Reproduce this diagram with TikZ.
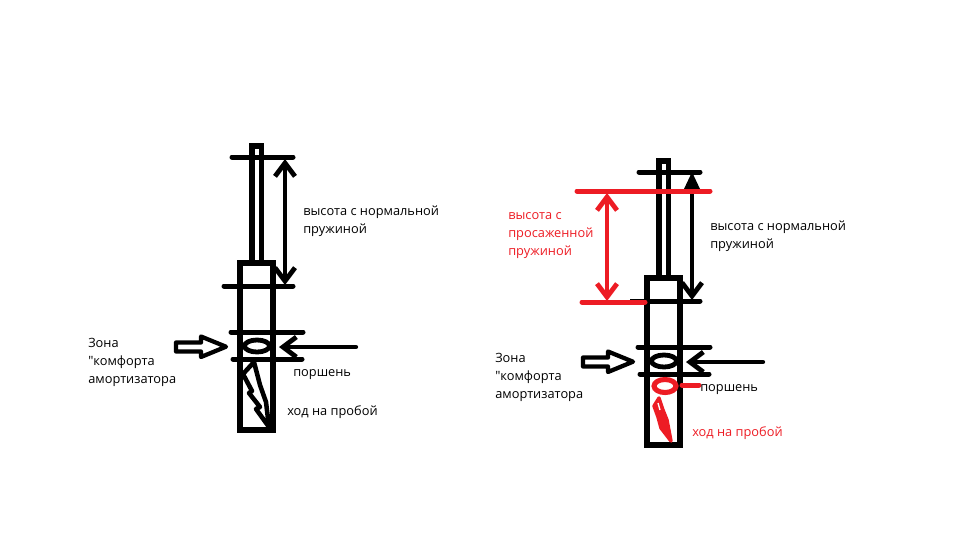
\documentclass[tikz,border=0pt]{standalone}
\usepackage{fontspec}
\setmainfont[Ligatures=TeXOff]{Open Sans}
\usetikzlibrary{arrows.meta}
\definecolor{myred}{RGB}{237,28,36}
\tikzset{
    thickline/.style={line width=3.75pt,line cap=round,line join=round},
    wallline/.style={line width=3.9pt,line join=miter},
    barbtip/.tip={Straight Barb[length=10pt,width=15pt,line width=3.6pt]},
    dimarrow/.style={line width=3.2pt,barbtip-barbtip},
    pusharrow/.style={line width=3.2pt,line join=round},
    note/.style={anchor=north west,inner sep=0pt,align=left,font=\fontsize{9.6}{13.5}\selectfont},
}
\begin{document}
\begin{tikzpicture}[x=0.75pt,y=-0.75pt]
    \useasboundingbox (0,0) rectangle (960,540);
    % left shock absorber
    \draw[wallline] (252,146) rectangle (261.5,263);
    \draw[wallline] (240,263) rectangle (273,430);
    \draw[thickline] (232,157) -- (293,157);
    \draw[thickline] (224,286) -- (293,286);
    \draw[thickline] (231,332) -- (303,332);
    \draw[thickline] (233,359) -- (302,359);
    \draw[line width=3.6pt] (257,346) ellipse (12.5 and 6);
    \coordinate (topA) at (285,159);
    \coordinate (botA) at (285,285);
    \draw[dimarrow] (topA) -- (botA);
    \draw[pusharrow] (176,342.5) -- (201,342.5) -- (201,336.5) -- (226,346.7) -- (201,357) -- (201,351.5) -- (176,351.5) -- cycle;
    \coordinate (tailA) at (356,347);
    \coordinate (tipA) at (279,347);
    \draw[line width=3.2pt,line cap=round,-barbtip] (tailA) -- (tipA);
    \draw[line width=3.4pt,line join=round] (254,362) -- (243,374) -- (252,391) -- (249,393) -- (260,407) -- (256,409) -- (269,427) -- (266,402) -- (260,385) -- (254,362);
    % left labels
    \node[note] (heightA) at (303,206) {высота с нормальной\\пружиной};
    \node[note] (zoneA) at (88,338) {Зона\\"комфорта\\амортизатора};
    \node[note] (pistonA) at (293,369) {поршень};
    \node[note] (strokeA) at (287,405) {ход на пробой};
    % right shock absorber
    \draw[wallline] (659,161) rectangle (668.5,278);
    \draw[wallline] (647,278) rectangle (680,445);
    \draw[thickline] (639,172) -- (700,172);
    \draw[thickline] (648,301) -- (700,301);
    \draw[line width=0.8pt] (630,300) -- (646,300);
    \draw[thickline] (638,347) -- (710,347);
    \draw[thickline] (640,374) -- (709,374);
    \draw[line width=3.6pt] (664,361) ellipse (12.5 and 6);
    \coordinate (topB) at (692,176);
    \coordinate (botB) at (692,300);
    \draw[line width=3.2pt,-barbtip] (topB) -- (botB);
    \fill (692,172) -- (684,189) -- (700,189) -- cycle;
    \draw[pusharrow] (583,357.5) -- (608,357.5) -- (608,351.5) -- (633,361.7) -- (608,372) -- (608,366.5) -- (583,366.5) -- cycle;
    \coordinate (tailB) at (763,362);
    \coordinate (tipB) at (686,362);
    \draw[line width=3.2pt,line cap=round,-barbtip] (tailB) -- (tipB);
    % red overlay
    \draw[thickline,myred] (577,191) -- (710,191);
    \draw[thickline,myred] (582,302) -- (645,302);
    \coordinate (topC) at (607,193);
    \coordinate (botC) at (607,301);
    \draw[dimarrow,myred] (topC) -- (botC);
    \draw[line width=3.8pt,myred] (665,386) ellipse (11 and 6.5);
    \draw[thickline,myred] (682,385) -- (699,385);
    \filldraw[line width=2.6pt,myred,line join=round] (659,398) -- (654,406) -- (658,417) -- (661,428) -- (671,441) -- (667,420) -- (663,410) -- cycle;
    \draw[white,line width=1pt] (658,403) -- (660,410);
    % right labels
    \node[note] (heightB) at (710,221) {высота с нормальной\\пружиной};
    \node[note,myred] (heightC) at (508,212) {высота с\\просаженной\\пружиной};
    \node[note] (zoneB) at (495,353) {Зона\\"комфорта\\амортизатора};
    \node[note] (pistonB) at (700,384) {поршень};
    \node[note,myred] (strokeB) at (692,426) {ход на пробой};
\end{tikzpicture}
\end{document}
